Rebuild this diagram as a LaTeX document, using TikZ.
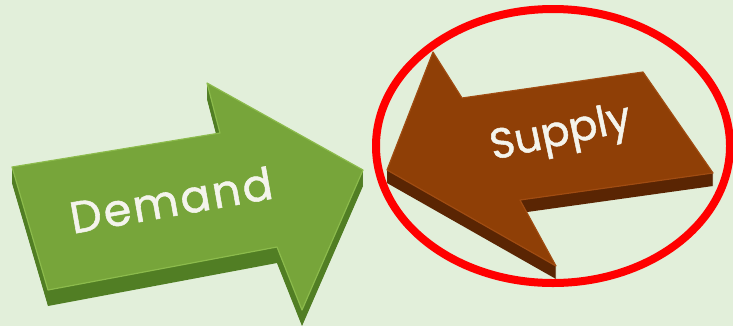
\documentclass[tikz,border=0pt]{standalone}
\usepackage{fontspec}
\usepackage{xcolor}
\usepackage{tikz}

\newfontfamily\arrowfont{Poppins}[FakeBold=1.2]

\definecolor{bgcol}{HTML}{E2EFDA}
\definecolor{gtop}{HTML}{77A53A}
\definecolor{gedge}{HTML}{8CBB4C}
\definecolor{gside}{HTML}{4A7720}
\definecolor{btop}{HTML}{8F3F06}
\definecolor{bedge}{HTML}{A04C12}
\definecolor{bside}{HTML}{5A2503}
\definecolor{textcol}{HTML}{F4F4EC}

% outlines of the two arrows, in pixels (y down)
\def\demandpath{(12,167) -- (220,133) -- (207,83) -- (363,170) -- (302,310) -- (277,247) -- (48,290) -- cycle}
\def\supplypath{(387,170) -- (433,52) -- (462,98) -- (643,72) -- (713,173) -- (520,200) -- (556,266) -- cycle}

\begin{document}
\begin{tikzpicture}[x=0.3mm, y=-0.3mm,
  face/.style={line join=round, line width=1pt},
  arrowtext/.style={font=\arrowfont\fontsize{36}{40}\selectfont, text=textcol, inner sep=0pt}
]
  \path[fill=bgcol, use as bounding box] (0,0) rectangle (733,326);

  % Demand, pointing right
  \foreach \k in {16,...,1}
    \fill[gside!85!gtop, shift={(0,\k)}] \demandpath;
  \filldraw[face, fill=gtop, draw=gedge] \demandpath;
  \node[arrowtext, font=\arrowfont\fontsize{38}{42}\selectfont\addfontfeatures{LetterSpace=5},
    rotate=10] (demand) at (171,200) {Demand};

  % Supply, pointing left
  \foreach \k in {13,...,1}
    \fill[bside, shift={(0,\k)}] \supplypath;
  \filldraw[face, fill=btop, draw=bedge] \supplypath;
  \node[arrowtext, rotate=12] (supply) at (561,135) {Supply};

  % ring round the supply arrow
  \draw[red, line width=2.4mm] (553,146) ellipse [x radius=53.1mm, y radius=41.1mm];
\end{tikzpicture}
\end{document}
